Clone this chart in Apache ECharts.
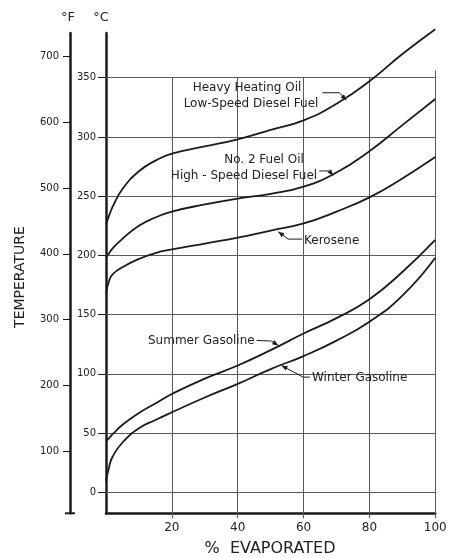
<!DOCTYPE html>
<html>
<head>
<meta charset="utf-8">
<script src="https://cdn.jsdelivr.net/npm/echarts@6/dist/echarts.min.js"></script>
<style>
html,body{margin:0;padding:0;background:#fff;}
#c{width:451px;height:558px;}
</style>
</head>
<body>
<div id="c"></div>
<script>
// ---- data ----
var evapPct = [0, 1, 2, 5, 10, 15, 20, 30, 40, 50, 60, 70, 80, 90, 100];
var heavyOil = [226, 234, 241, 256, 271, 280, 286, 292, 298, 306, 314, 328, 347, 370, 391];
var no2FuelOil = [198, 202, 206, 214, 225, 232, 237, 243, 248, 252, 258, 270, 288, 310, 332];
var kerosene = [168, 179, 184, 190, 197, 202, 205, 210, 215, 221, 227, 237, 249, 265, 283];
var summerGasoline = [43, 46, 49, 57, 67, 75, 83, 96, 107, 120, 134, 147, 163, 186, 213];
var winterGasoline = [9, 22, 30, 42, 54, 61, 67.5, 80, 91.5, 104, 115, 128, 144, 166, 198];
var celsiusTicks = [0, 50, 100, 150, 200, 250, 300, 350];
var fahrenheitTicks = [100, 200, 300, 400, 500, 600, 700];
var pctTicks = [20, 40, 60, 80, 100];
var cMin = -17.78, cMax = 387.78;
var fMin = 5.2, fMax = 736;

function pairs(ys) { return evapPct.map(function (x, i) { return [x, ys[i]]; }); }

var chart = echarts.init(document.getElementById('c'), null, {renderer: 'canvas'});
var ink = '#1b1b1b';
var gridColor = '#5a5a5a';
var FONT = 'DejaVu Sans';

var gridLines = [];
celsiusTicks.forEach(function (v) {
  gridLines.push([{coord: [0, v]}, {coord: [100, v]}]);
});
pctTicks.forEach(function (p) {
  gridLines.push([{coord: [p, cMin]}, {coord: [p, p === 100 ? 356 : 350]}]);
});

function lineSeries(name, ys, extra) {
  var s = {
    name: name, type: 'line', data: pairs(ys),
    xAxisIndex: 0, yAxisIndex: 0,
    smooth: 0.5,
    showSymbol: false, symbol: 'none', clip: false, silent: true,
    lineStyle: {color: ink, width: 1.8}, z: 5
  };
  if (extra) for (var k in extra) s[k] = extra[k];
  return s;
}

var option = {
  animation: false,
  backgroundColor: '#ffffff',
  grid: {left: 106, right: 15.7, top: 33, bottom: 44.7, containLabel: false},
  xAxis: {
    type: 'value', min: 0, max: 100,
    axisLine: {show: true, onZero: false, lineStyle: {color: ink, width: 2.5}},
    axisTick: {show: true, length: 5, customValues: pctTicks, lineStyle: {color: gridColor, width: 1}},
    axisLabel: {customValues: pctTicks, color: '#222', fontFamily: FONT, fontSize: 12, margin: 9},
    splitLine: {show: false}
  },
  yAxis: [
    {
      type: 'value', min: cMin, max: cMax, position: 'left', offset: 0,
      axisLine: {show: true, onZero: false, lineStyle: {color: ink, width: 2.5}},
      axisTick: {show: true, length: 8, customValues: celsiusTicks, lineStyle: {color: ink, width: 1}},
      axisLabel: {customValues: celsiusTicks, color: '#222', fontFamily: FONT, fontSize: 10, margin: 10},
      splitLine: {show: false}
    },
    {
      type: 'value', min: fMin, max: fMax, position: 'left', offset: 36,
      axisLine: {show: true, onZero: false, lineStyle: {color: ink, width: 2.5}},
      axisTick: {show: true, length: 7, customValues: fahrenheitTicks, lineStyle: {color: ink, width: 1}},
      axisLabel: {customValues: fahrenheitTicks, color: '#222', fontFamily: FONT, fontSize: 10, margin: 11},
      splitLine: {show: false}
    }
  ],
  series: [
    lineSeries('Heavy Heating Oil', heavyOil, {
      markLine: {
        silent: true, symbol: ['none', 'none'], label: {show: false},
        lineStyle: {color: gridColor, width: 1, type: 'solid'},
        data: gridLines, z: 1
      }
    }),
    lineSeries('No. 2 Fuel Oil', no2FuelOil),
    lineSeries('Kerosene', kerosene),
    lineSeries('Summer Gasoline', summerGasoline),
    lineSeries('Winter Gasoline', winterGasoline)
  ]
};
chart.setOption(option);

// ---- annotations ----
var arrows = [
  {tip: [73, 331], pts: [[-24, -7.5], [-7, -7.5]]},
  {tip: [69, 267.5], pts: [[-14, -4.5], [-4, -4.5]]},
  {tip: [52.3, 220], pts: [[24, 7.4], [10, 7.4]]},
  {tip: [52.3, 124], pts: [[-21.6, -5], [-6.6, -4.3]]},
  {tip: [53.3, 107], pts: [[28.3, 11.6], [21.6, 11.6]]}
];
var labels = [
  {t: 'Heavy Heating Oil', x: 247, y: 88, a: 'center'},
  {t: 'Low-Speed Diesel Fuel', x: 251, y: 104, a: 'center'},
  {t: 'No. 2 Fuel Oil', x: 264, y: 160, a: 'center'},
  {t: 'High - Speed Diesel Fuel', x: 244, y: 176, a: 'center'},
  {t: 'Kerosene', x: 304, y: 241, a: 'left'},
  {t: 'Summer Gasoline', x: 148, y: 341, a: 'left'},
  {t: 'Winter Gasoline', x: 312, y: 378, a: 'left'}
];

var g = [];
labels.forEach(function (l) {
  g.push({type: 'text', x: l.x, y: l.y, silent: true, z: 10,
    style: {text: l.t, fill: '#222', font: '12px "' + FONT + '"', align: l.a, verticalAlign: 'middle'}});
});
arrows.forEach(function (a) {
  var tp = chart.convertToPixel({xAxisIndex: 0, yAxisIndex: 0}, a.tip);
  var p0 = [tp[0] + a.pts[0][0], tp[1] + a.pts[0][1]];
  var p1 = [tp[0] + a.pts[1][0], tp[1] + a.pts[1][1]];
  g.push({type: 'polyline', silent: true, z: 10, shape: {points: [p0, p1, tp]},
    style: {stroke: ink, lineWidth: 1, fill: null}});
  var dx = tp[0] - p1[0], dy = tp[1] - p1[1];
  var len = Math.sqrt(dx * dx + dy * dy) || 1;
  var ux = dx / len, uy = dy / len;
  var L = 6, W = 2.4;
  var bx = tp[0] - ux * L, by = tp[1] - uy * L;
  g.push({type: 'polygon', silent: true, z: 11,
    shape: {points: [tp, [bx - uy * W, by + ux * W], [bx + uy * W, by - ux * W]]},
    style: {fill: ink}});
});

// axis titles
g.push({type: 'text', x: 68, y: 18, silent: true,
  style: {text: '°F', fill: '#222', font: '13px "' + FONT + '"', align: 'center', verticalAlign: 'middle'}});
g.push({type: 'text', x: 101, y: 18, silent: true,
  style: {text: '°C', fill: '#222', font: '13px "' + FONT + '"', align: 'center', verticalAlign: 'middle'}});
g.push({type: 'text', x: 20, y: 277, rotation: Math.PI / 2, silent: true,
  style: {text: 'TEMPERATURE', fill: '#222', font: '14px "' + FONT + '"', align: 'center', verticalAlign: 'middle'}});
g.push({type: 'text', x: 270, y: 549, silent: true,
  style: {text: '%  EVAPORATED', fill: '#222', font: '16px "' + FONT + '"', align: 'center', verticalAlign: 'middle'}});

// bottom cap of the °F axis
var fBottom = chart.convertToPixel({yAxisIndex: 1}, fMin);
var fAxisX = 106 - 36;
g.push({type: 'line', silent: true, shape: {x1: fAxisX - 5, y1: fBottom, x2: fAxisX + 5, y2: fBottom},
  style: {stroke: ink, lineWidth: 2}});

chart.setOption({graphic: g});
</script>
</body>
</html>
